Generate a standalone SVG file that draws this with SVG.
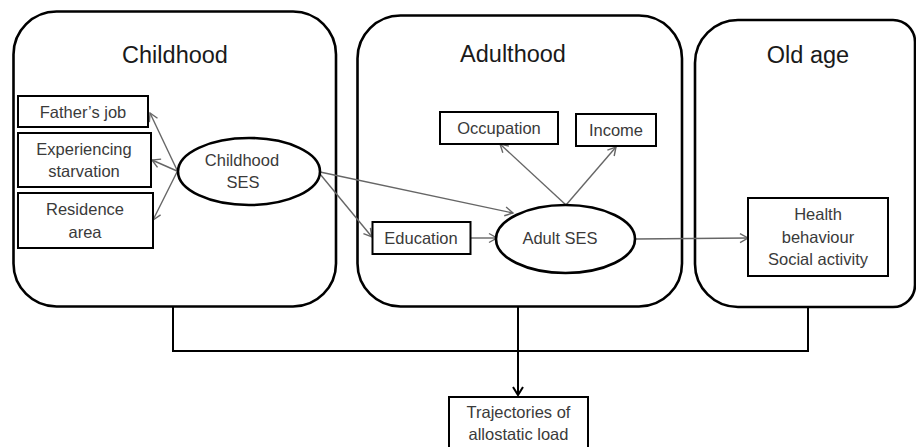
<svg xmlns="http://www.w3.org/2000/svg" width="916" height="447" viewBox="0 0 916 447">
<style>
.stage{fill:#fff;stroke:#000;stroke-width:2.6}
.title{font-family:"Liberation Sans",Arial,sans-serif;font-size:23.5px;fill:#1a1a1a;text-anchor:middle}
.box{fill:#fff;stroke:#000;stroke-width:2}
.ell{fill:#fff;stroke:#000;stroke-width:2.6}
.lbl{font-family:"Liberation Sans",Arial,sans-serif;font-size:16.5px;fill:#3a3a3a;text-anchor:middle}
.arr{fill:none;stroke:#666;stroke-width:1.4;marker-end:url(#ga)}
.brk{fill:none;stroke:#000;stroke-width:2}
</style>
<defs>
<marker id="ga" markerUnits="userSpaceOnUse" markerWidth="14" markerHeight="14" refX="10" refY="7" orient="auto" viewBox="0 0 14 14">
<path d="M2,2.5 L10,7 L2,11.5" fill="none" stroke="#666" stroke-width="1.4"/>
</marker>
<marker id="ba" markerUnits="userSpaceOnUse" markerWidth="14" markerHeight="14" refX="10" refY="7" orient="auto" viewBox="0 0 14 14">
<path d="M2,2 L10,7 L2,12" fill="none" stroke="#000" stroke-width="2"/>
</marker>
</defs>
<rect width="916" height="447" fill="#fff"/>
<g id="stage-childhood">
<rect class="stage" x="13.5" y="11.5" width="322.5" height="295" rx="43" ry="43"/>
<text class="title" x="175" y="63">Childhood</text>
</g>
<g id="stage-adulthood">
<rect class="stage" x="357.5" y="15.5" width="324.5" height="291" rx="43" ry="43"/>
<text class="title" x="513" y="62">Adulthood</text>
</g>
<g id="stage-oldage">
<path class="stage" d="M738,20 H893 A22,22 0 0 1 915,42 V285 A22,22 0 0 1 893,307 H738 A43,43 0 0 1 695,264 V63 A43,43 0 0 1 738,20 Z"/>
<text class="title" x="808" y="63">Old age</text>
</g>
<g id="connectors">
<line class="arr" x1="177" y1="170" x2="150" y2="113"/>
<line class="arr" x1="177" y1="171" x2="152" y2="160"/>
<line class="arr" x1="177" y1="172" x2="153" y2="220"/>
<line class="arr" x1="320" y1="172" x2="513" y2="213"/>
<line class="arr" x1="320" y1="174" x2="372" y2="237"/>
<line class="arr" x1="471" y1="238" x2="497" y2="238"/>
<line class="arr" x1="566" y1="205" x2="500" y2="144"/>
<line class="arr" x1="566" y1="205" x2="616" y2="147"/>
<line class="arr" x1="636" y1="239" x2="748" y2="238"/>
<path class="brk" d="M173,307 V351 H808 V307"/>
<path class="brk" d="M518,307 V395" marker-end="url(#ba)"/>
</g>
<g id="node-fathers-job">
<rect class="box" x="18" y="96" width="130" height="31"/>
<text class="lbl" x="83" y="118">Father’s job</text>
</g>
<g id="node-starvation">
<rect class="box" x="18" y="133" width="133" height="54"/>
<text class="lbl" x="84" y="155">Experiencing</text>
<text class="lbl" x="84" y="177">starvation</text>
</g>
<g id="node-residence">
<rect class="box" x="18" y="193" width="135" height="55"/>
<text class="lbl" x="85" y="215">Residence</text>
<text class="lbl" x="85" y="238">area</text>
</g>
<g id="node-childhood-ses">
<ellipse class="ell" cx="249" cy="171.5" rx="71" ry="33.5"/>
<text class="lbl" x="242" y="166">Childhood</text>
<text class="lbl" x="243" y="188">SES</text>
</g>
<g id="node-occupation">
<rect class="box" x="440" y="112" width="118" height="32"/>
<text class="lbl" x="499" y="134">Occupation</text>
</g>
<g id="node-income">
<rect class="box" x="576" y="114" width="80" height="32"/>
<text class="lbl" x="616" y="136">Income</text>
</g>
<g id="node-education">
<rect class="box" x="372.5" y="222" width="98" height="32"/>
<text class="lbl" x="421" y="244">Education</text>
</g>
<g id="node-adult-ses">
<ellipse class="ell" cx="565.5" cy="239" rx="69.5" ry="34"/>
<text class="lbl" x="560" y="244">Adult SES</text>
</g>
<g id="node-health">
<rect class="box" x="748" y="198" width="140" height="78"/>
<text class="lbl" x="818" y="220">Health</text>
<text class="lbl" x="818" y="243">behaviour</text>
<text class="lbl" x="818" y="265">Social activity</text>
</g>
<g id="node-trajectories">
<rect class="box" x="449" y="397" width="139" height="60"/>
<text class="lbl" x="518.5" y="418">Trajectories of</text>
<text class="lbl" x="518.5" y="440">allostatic load</text>
</g>
</svg>
